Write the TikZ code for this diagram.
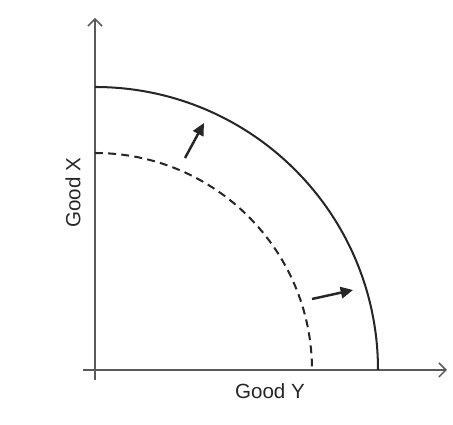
\documentclass[tikz,border=0pt]{standalone}
\usepackage{fontspec}
\setmainfont{Liberation Sans}
\usetikzlibrary{arrows.meta}
\definecolor{axgray}{HTML}{5A5A5A}
\tikzset{
  axis/.style={draw=axgray, line width=0.85pt, -{Straight Barb[length=4pt, width=8pt]}},
  ppf/.style={draw=black!85, line width=1.15pt},
  oldppf/.style={draw=black!85, line width=1.15pt, dash pattern=on 4.5pt off 3pt},
  shiftarr/.style={-{Triangle[length=7pt, width=6.5pt]}, line width=1.4pt, draw=black!85},
  axlab/.style={font=\fontsize{11.7}{14}\selectfont, text=black!85, inner sep=0pt},
}
\begin{document}
\begin{tikzpicture}[x=0.02cm, y=0.02cm]
    \useasboundingbox (-95,-55) rectangle (358,370);
    % axes
    \coordinate (o) at (0,0);
    \coordinate (xstart) at (-12,0);
    \coordinate (xtip) at (352,0);
    \coordinate (ystart) at (0,-10);
    \coordinate (ytip) at (0,352);
    \draw[axis] (xstart) -- (xtip);
    \draw[axis] (ystart) -- (ytip);
    \node[axlab] (ylab) at (175,-21) {Good Y};
    \node[axlab, rotate=90] (xlab) at (-22,177) {Good X};
    % frontiers
    \draw[oldppf] (0,217) arc[start angle=90, end angle=0, radius=217];
    \draw[ppf] (0,283) arc[start angle=90, end angle=0, radius=283];
    % outward shifts
    \coordinate (a1) at (90,212);
    \coordinate (b1) at (109,247);
    \coordinate (a2) at (217,71);
    \coordinate (b2) at (258,80);
    \draw[shiftarr] (a1) -- (b1);
    \draw[shiftarr] (a2) -- (b2);
\end{tikzpicture}
\end{document}
